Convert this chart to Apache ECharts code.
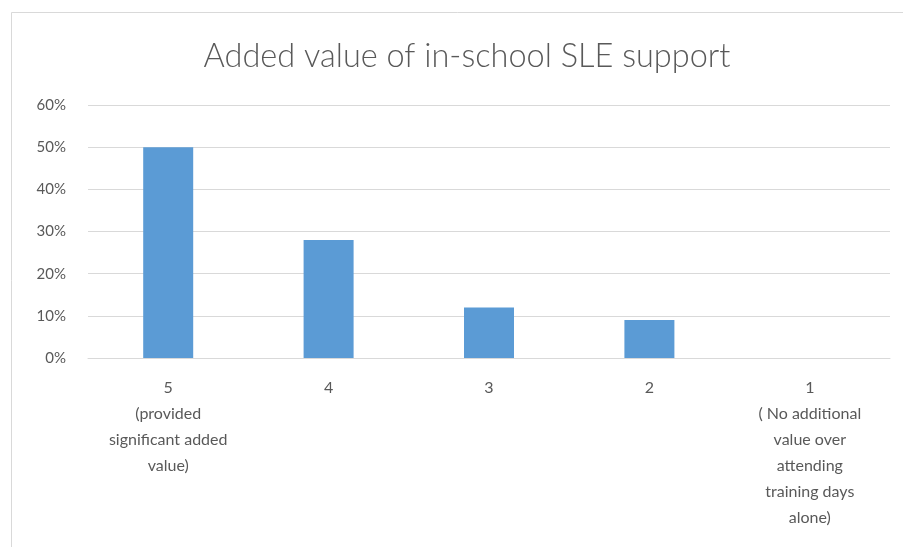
<!DOCTYPE html>
<html>
<head>
<meta charset="utf-8">
<style>
  html, body { margin: 0; padding: 0; background: #ffffff; }
  #chart { width: 903px; height: 547px; }
</style>
<script src="https://cdn.jsdelivr.net/npm/echarts@6/dist/echarts.min.js"></script>
</head>
<body>
<div id="chart"></div>
<script>
// Rating scale categories (5 = highest) and share of responses
const categories = [
  '5\n(provided\nsignificant added\nvalue)',
  '4',
  '3',
  '2',
  '1\n( No additional\nvalue over\nattending\ntraining days\nalone)'
];
const shares = [0.50, 0.28, 0.12, 0.09, 0];
const titleText = 'Added value of in-school SLE support';

const textColor = '#595959';
const lineColor = '#d9d9d9';
const fontFamily = 'Lato, "Open Sans", sans-serif';

const chart = echarts.init(document.getElementById('chart'));
chart.setOption({
  backgroundColor: '#ffffff',
  animation: false,
  textStyle: { fontFamily: fontFamily },
  graphic: [{
    type: 'rect',
    shape: { x: 11.5, y: 12.5, width: 1000, height: 1000 },
    style: { fill: 'none', stroke: lineColor, lineWidth: 1 },
    silent: true
  }],
  title: {
    text: titleText,
    left: 462,
    textAlign: 'center',
    top: 35,
    textStyle: { color: textColor, fontSize: 32.5, fontWeight: 300, fontFamily: fontFamily }
  },
  grid: { left: 88, right: 13, top: 105, bottom: 189 },
  xAxis: {
    type: 'category',
    data: categories,
    axisLine: { lineStyle: { color: lineColor } },
    axisTick: { show: false },
    axisLabel: {
      color: textColor,
      fontSize: 16,
      lineHeight: 26,
      margin: 17,
      interval: 0,
      align: 'center'
    }
  },
  yAxis: {
    type: 'value',
    min: 0,
    max: 0.6,
    interval: 0.1,
    axisLine: { show: false },
    axisTick: { show: false },
    splitLine: { lineStyle: { color: lineColor } },
    axisLabel: {
      color: textColor,
      fontSize: 15,
      margin: 22,
      formatter: v => Math.round(v * 100) + '%'
    }
  },
  series: [{
    type: 'bar',
    data: shares,
    barWidth: 50,
    itemStyle: { color: '#5b9bd5' }
  }]
});
</script>
</body>
</html>
